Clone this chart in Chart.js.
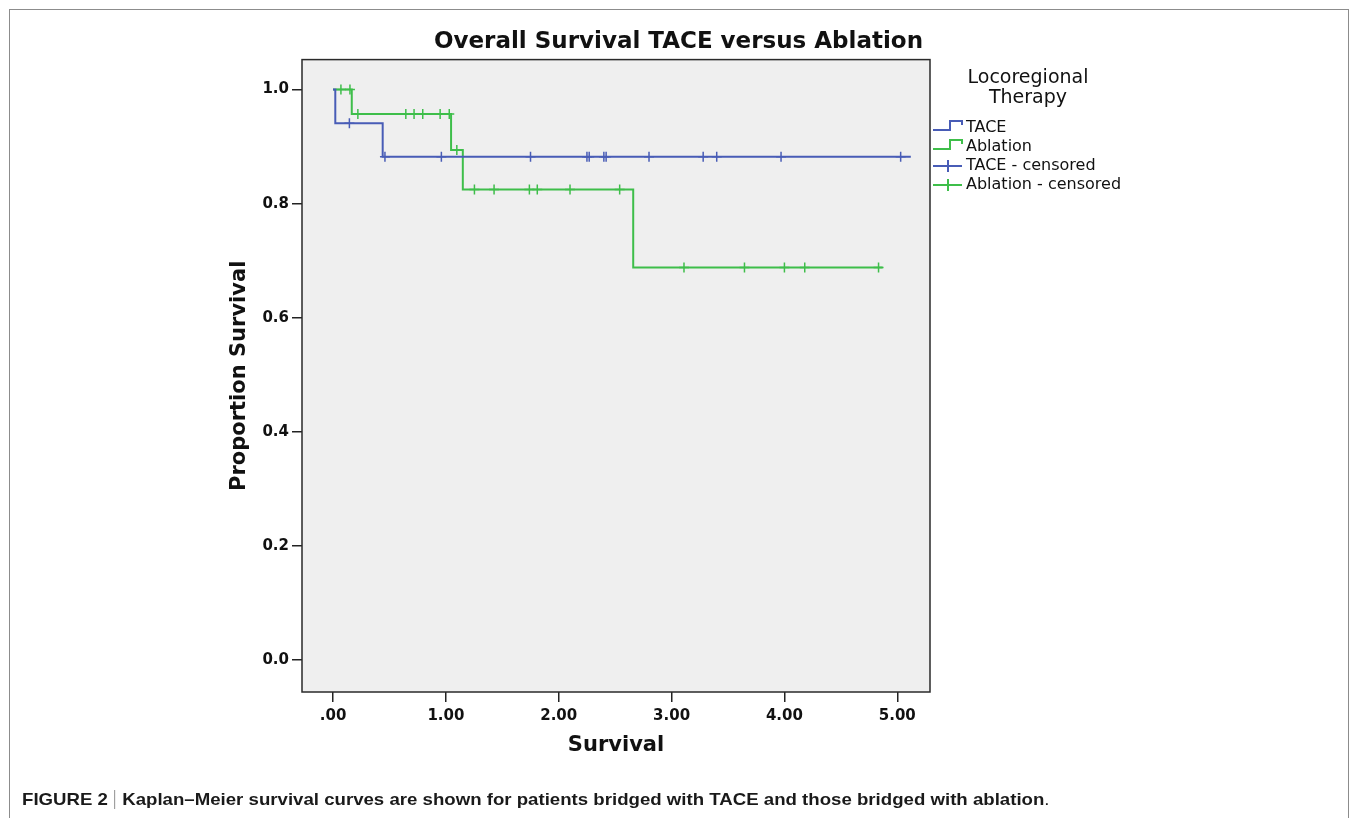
<!DOCTYPE html>
<html>
<head>
<meta charset="utf-8">
<title>Overall Survival TACE versus Ablation</title>
<script src="https://cdn.jsdelivr.net/npm/chart.js@4.4.1/dist/chart.umd.min.js"></script>
<style>
  html, body { margin: 0; padding: 0; background: #fff; overflow: hidden; }
  #wrap { position: relative; width: 1357px; height: 818px; }
  #c { position: absolute; left: 0; top: 0; }
  #frame { position: absolute; left: 9px; top: 9px; width: 1338px; height: 840px; border: 1px solid #8c8c8c; }
  #caption { position: absolute; left: 22px; top: 790px; font: bold 17px "Liberation Sans", Arial, sans-serif;
             color: #1a1a1a; white-space: nowrap; transform-origin: 0 0; }
  #caption .sep { display: inline-block; width: 0; height: 19px; border-left: 1px solid #9a9a9a;
                  margin: 0 6px; vertical-align: -4px; }
  #caption .plain { font-weight: normal; }
</style>
</head>
<body>
<div id="wrap">
  <div id="frame"></div>
  <canvas id="c" width="1357" height="818"></canvas>
  <div id="caption">FIGURE 2<span class="sep"></span>Kaplan–Meier survival curves are shown for patients bridged with TACE and those bridged with ablation<span class="plain">.</span></div>
</div>
<script>
// axis ticks
const timeTicks = [0, 1, 2, 3, 4, 5];
const timeTickLabels = [".00", "1.00", "2.00", "3.00", "4.00", "5.00"];
const survTicks = [0, 0.2, 0.4, 0.6, 0.8, 1.0];
const survTickLabels = ["0.0", "0.2", "0.4", "0.6", "0.8", "1.0"];

const legendTitle = ["Locoregional", "Therapy"];
const legendLabels = ["TACE", "Ablation", "TACE - censored", "Ablation - censored"];

// TACE step curve
const taceTimes = [0, 0.02, 0.44, 5.12];
const taceSurv = [1.0, 0.941, 0.882, 0.882];
// TACE censored
const taceCensTimes = [0.145, 0.46, 0.96, 1.75, 2.25, 2.27, 2.40, 2.42, 2.80, 3.28, 3.40, 3.97, 5.03];
const taceCensSurv = [0.941, 0.882, 0.882, 0.882, 0.882, 0.882, 0.882, 0.882, 0.882, 0.882, 0.882, 0.882, 0.882];

// Ablation step curve
const ablTimes = [0, 0.166, 1.046, 1.15, 2.66, 4.87];
const ablSurv = [1.0, 0.957, 0.894, 0.825, 0.688, 0.688];
// Ablation censored
const ablCensTimes = [0.07, 0.15, 0.22, 0.645, 0.718, 0.795, 0.949, 1.03, 1.097,
  1.253, 1.427, 1.74, 1.81, 2.10, 2.54, 3.11, 3.646, 4.0, 4.18, 4.834];
const ablCensSurv = [1.0, 1.0, 0.957, 0.957, 0.957, 0.957, 0.957, 0.957, 0.894,
  0.825, 0.825, 0.825, 0.825, 0.825, 0.825, 0.688, 0.688, 0.688, 0.688, 0.688];

const blue = "rgb(72, 92, 182)";
const green = "rgb(62, 190, 74)";
const font = "DejaVu Sans";

function toPoints(xs, ys) {
  return xs.map((x, i) => ({ x: x, y: ys[i] }));
}

const plotBackground = {
  id: "plotBackground",
  beforeDraw(chart) {
    const a = chart.chartArea;
    const ctx = chart.ctx;
    ctx.save();
    ctx.fillStyle = "#efefef";
    ctx.fillRect(a.left, a.top, a.right - a.left, a.bottom - a.top);
    ctx.restore();
  },
  afterDraw(chart) {
    const a = chart.chartArea;
    const ctx = chart.ctx;
    ctx.save();
    ctx.strokeStyle = "#2a2a2a";
    ctx.lineWidth = 1.5;
    ctx.strokeRect(a.left, a.top, a.right - a.left, a.bottom - a.top);
    ctx.restore();
  }
};

// legend on the right, drawn like the SPSS one
const kmLegend = {
  id: "kmLegend",
  afterDraw(chart) {
    const ctx = chart.ctx;
    const x0 = chart.chartArea.right + 3;
    ctx.save();
    ctx.fillStyle = "#111";
    ctx.textBaseline = "middle";
    ctx.textAlign = "center";
    ctx.font = '19px "' + font + '"';
    ctx.fillText(legendTitle[0], 1028, 78);
    ctx.fillText(legendTitle[1], 1028, 98);

    ctx.font = '16px "' + font + '"';
    ctx.textAlign = "left";
    const colors = [blue, green, blue, green];
    legendLabels.forEach((lab, i) => {
      const y = 128 + i * 19;
      ctx.strokeStyle = colors[i];
      ctx.lineWidth = 2;
      ctx.beginPath();
      if (i < 2) {
        ctx.moveTo(x0, y + 2);
        ctx.lineTo(x0 + 17, y + 2);
        ctx.lineTo(x0 + 17, y - 7);
        ctx.lineTo(x0 + 29, y - 7);
        ctx.lineTo(x0 + 29, y - 3);
      } else {
        ctx.moveTo(x0, y);
        ctx.lineTo(x0 + 29, y);
        ctx.moveTo(x0 + 15, y - 6);
        ctx.lineTo(x0 + 15, y + 6);
      }
      ctx.stroke();
      ctx.fillStyle = "#111";
      ctx.fillText(lab, x0 + 33, y);
    });
    ctx.restore();
  }
};

const data = {
  datasets: [
    {
      label: legendLabels[0],
      data: toPoints(taceTimes, taceSurv),
      showLine: true,
      stepped: true,
      borderColor: blue,
      borderWidth: 2,
      pointRadius: 0
    },
    {
      label: legendLabels[1],
      data: toPoints(ablTimes, ablSurv),
      showLine: true,
      stepped: true,
      borderColor: green,
      borderWidth: 2,
      pointRadius: 0
    },
    {
      label: legendLabels[2],
      data: toPoints(taceCensTimes, taceCensSurv),
      showLine: false,
      pointStyle: "cross",
      pointRadius: 5,
      borderColor: blue,
      borderWidth: 1.5
    },
    {
      label: legendLabels[3],
      data: toPoints(ablCensTimes, ablCensSurv),
      showLine: false,
      pointStyle: "cross",
      pointRadius: 5,
      borderColor: green,
      borderWidth: 1.5
    }
  ]
};

const config = {
  type: "scatter",
  data: data,
  options: {
    responsive: false,
    animation: false,
    layout: { padding: { top: 19, right: 0, bottom: 0, left: 0 } },
    plugins: {
      legend: { display: false },
      tooltip: { enabled: false },
      title: {
        display: true,
        text: "Overall Survival TACE versus Ablation",
        color: "#111",
        align: "center",
        font: { family: font, size: 23, weight: "bold" },
        padding: { top: 9, bottom: 4 }
      }
    },
    scales: {
      x: {
        type: "linear",
        position: "bottom",
        min: -0.275,
        max: 5.29,
        afterBuildTicks: (s) => { s.ticks = timeTicks.map((v) => ({ value: v })); },
        afterFit: (s) => { s.height = 126; },
        ticks: {
          autoSkip: false,
          maxRotation: 0,
          padding: 5,
          color: "#111",
          font: { family: font, size: 15, weight: "bold" },
          callback: (v, i) => timeTickLabels[i]
        },
        grid: { drawOnChartArea: false, drawTicks: true, tickLength: 10, color: "#222", lineWidth: 1.5 },
        border: { display: false },
        title: {
          display: true,
          text: "Survival",
          color: "#111",
          font: { family: font, size: 21, weight: "bold" },
          padding: { top: 0, bottom: 60 }
        }
      },
      y: {
        type: "linear",
        position: "left",
        min: -0.056,
        max: 1.0525,
        afterBuildTicks: (s) => { s.ticks = survTicks.map((v) => ({ value: v })); },
        afterFit: (s) => { s.width = 302; },
        ticks: {
          autoSkip: false,
          padding: 3,
          color: "#111",
          font: { family: font, size: 15, weight: "bold" },
          callback: (v, i) => survTickLabels[i]
        },
        grid: { drawOnChartArea: false, drawTicks: true, tickLength: 10, color: "#222", lineWidth: 1.5 },
        border: { display: false },
        title: {
          display: true,
          text: "Proportion Survival",
          color: "#111",
          font: { family: font, size: 21, weight: "bold" },
          padding: { top: 227, bottom: 0 }
        }
      },
      // empty space on the right that holds the legend
      legendSpace: {
        type: "linear",
        position: "right",
        display: true,
        min: 0,
        max: 1,
        afterFit: (s) => { s.width = 427; },
        ticks: { display: false },
        grid: { display: false },
        border: { display: false }
      }
    }
  },
  plugins: [plotBackground, kmLegend]
};

const myChart = new Chart(document.getElementById("c"), config);

// squeeze the caption to the width it has in the figure
const cap = document.getElementById("caption");
cap.style.transform = "scaleX(" + (1027 / cap.offsetWidth) + ")";
</script>
</body>
</html>
